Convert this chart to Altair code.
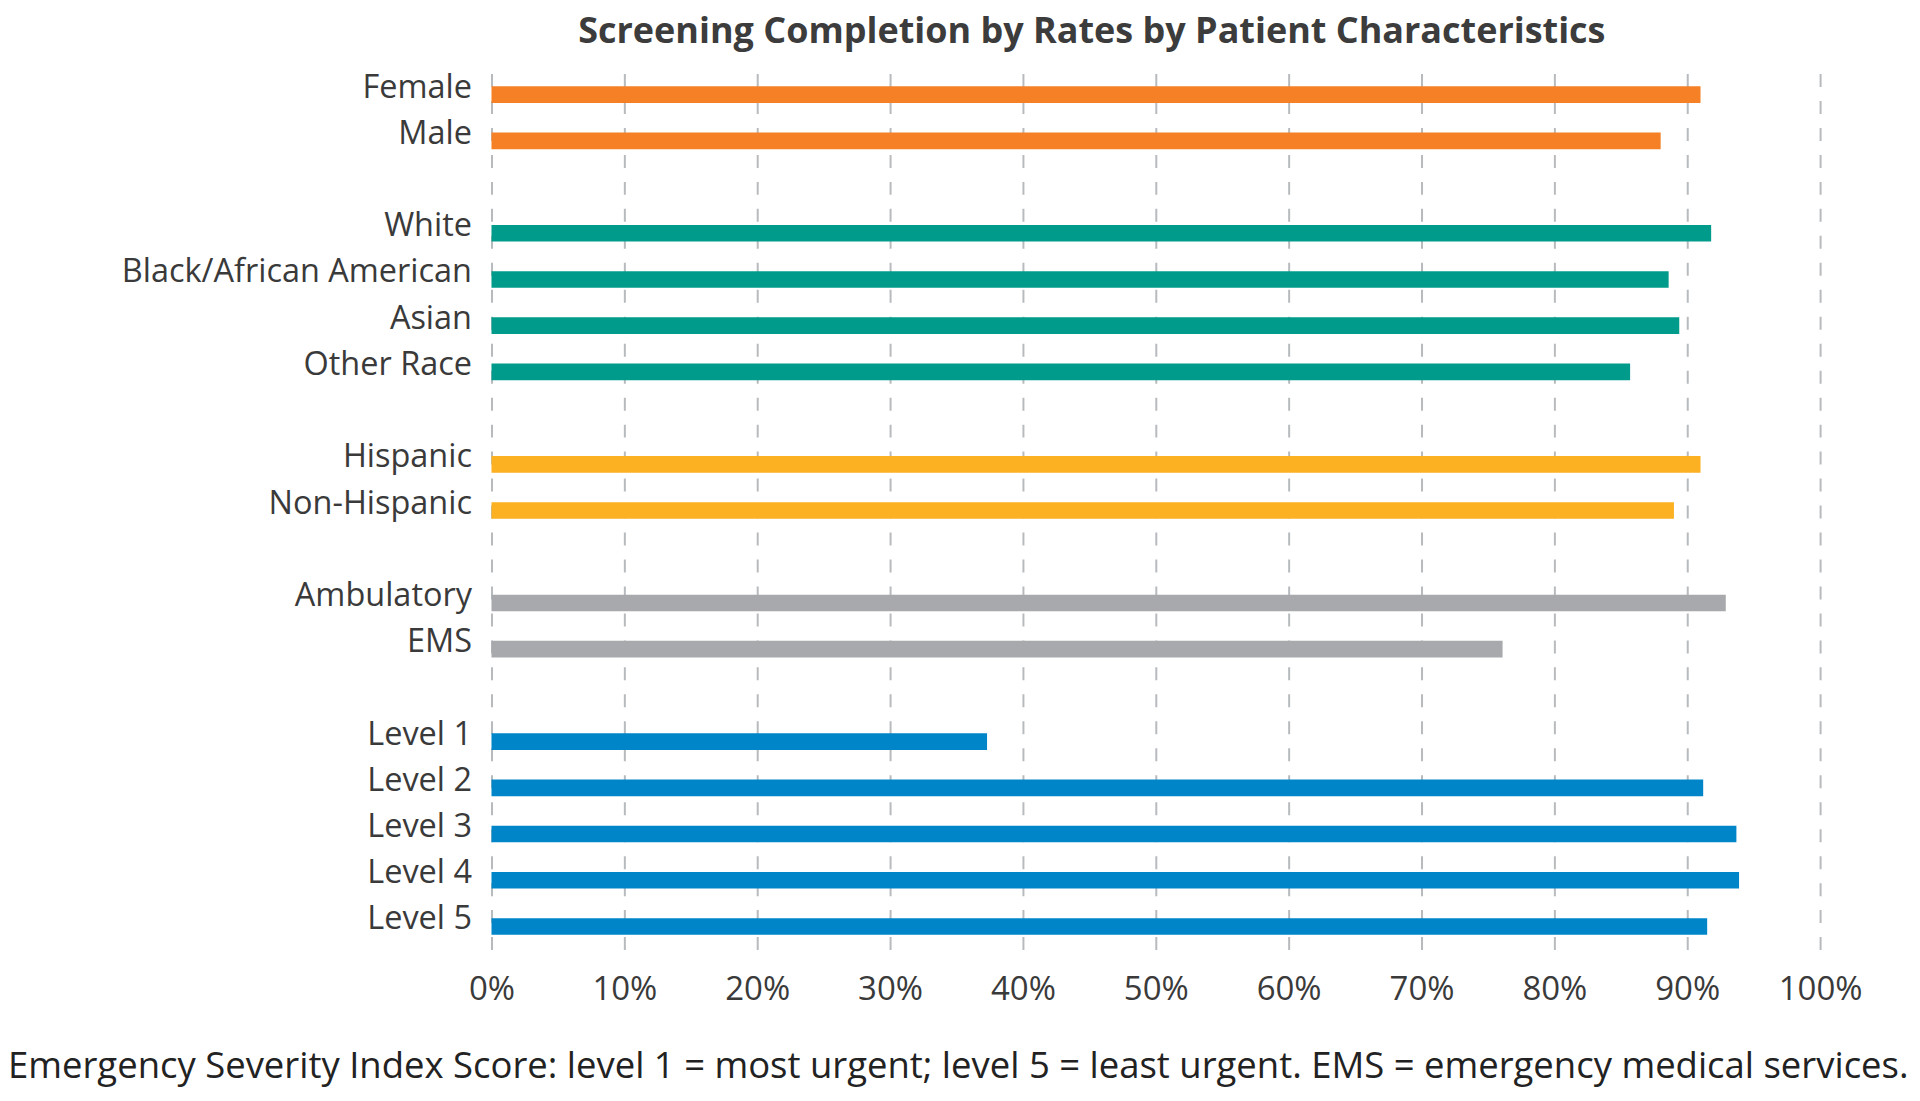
import altair as alt
import pandas as pd

categories = ["Female", "Male",
              "White", "Black/African American", "Asian", "Other Race",
              "Hispanic", "Non-Hispanic",
              "Ambulatory", "EMS",
              "Level 1", "Level 2", "Level 3", "Level 4", "Level 5"]
groups = ["Sex", "Sex",
          "Race", "Race", "Race", "Race",
          "Ethnicity", "Ethnicity",
          "Arrival", "Arrival",
          "ESI", "ESI", "ESI", "ESI", "ESI"]
rates = [91.0, 88.0,
         91.8, 88.6, 89.4, 85.7,
         91.0, 89.0,
         92.9, 76.1,
         37.3, 91.2, 93.7, 93.9, 91.5]

order = ["Female", "Male", "gap1",
         "White", "Black/African American", "Asian", "Other Race", "gap2",
         "Hispanic", "Non-Hispanic", "gap3",
         "Ambulatory", "EMS", "gap4",
         "Level 1", "Level 2", "Level 3", "Level 4", "Level 5"]
group_names = ["Sex", "Race", "Ethnicity", "Arrival", "ESI"]
group_colors = ["#F58025", "#009B8A", "#FBB121", "#A7A9AC", "#0085C8"]
x_ticks = [0, 10, 20, 30, 40, 50, 60, 70, 80, 90, 100]

title_text = "Screening Completion by Rates by Patient Characteristics"
footnote = ("Emergency Severity Index Score: level 1 = most urgent; "
            "level 5 = least urgent. EMS = emergency medical services.")

df = pd.DataFrame({"category": categories, "group": groups, "rate": rates})

FONT = "Open Sans"
TXT = "#3a3a3a"
W, H = 1330, 879

x_scale = alt.Scale(domain=[0, 100], nice=False)
y_scale = alt.Scale(domain=order, paddingInner=0.64, paddingOuter=0.32)

bars = alt.Chart(df).mark_bar().encode(
    x=alt.X("rate:Q", scale=x_scale,
            axis=alt.Axis(values=x_ticks, labelExpr="datum.value + '%'",
                          title=None, domain=False, ticks=False, labelFlush=False,
                          labelPadding=24, labelFontSize=33, labelFont=FONT,
                          labelColor=TXT, grid=True, gridDash=[13, 14],
                          gridColor="#b8bbbe", gridWidth=2)),
    y=alt.Y("category:N", scale=y_scale,
            axis=alt.Axis(title=None, domain=False, ticks=False, grid=False,
                          labelExpr="indexof(datum.value, 'gap') == 0 ? '' : datum.value",
                          labelFontSize=32.5, labelFont=FONT, labelColor=TXT,
                          labelPadding=20, labelOffset=-7, labelLimit=600)),
    color=alt.Color("group:N", scale=alt.Scale(domain=group_names, range=group_colors),
                    legend=None),
)

note = alt.Chart(alt.Data(values=[{"t": footnote}])).mark_text(
    align="left", baseline="middle", font=FONT, fontSize=36.5, color="#222222"
).encode(
    x=alt.value(-484), y=alt.value(997), text="t:N"
)

title = alt.Chart(alt.Data(values=[{"t": title_text}])).mark_text(
    align="center", baseline="middle", font=FONT, fontSize=36, fontWeight="bold",
    color="#3c3c3c"
).encode(
    x=alt.value(601), y=alt.value(-40), text="t:N"
)

chart = alt.layer(bars, note, title).properties(
    width=W, height=H,
    autosize=alt.AutoSizeParams(type="none"),
    padding={"left": 484, "top": 63, "right": 92, "bottom": 138},
).configure_view(stroke=None)

chart.save("out.html", embed_options={"renderer": "svg", "actions": False})
